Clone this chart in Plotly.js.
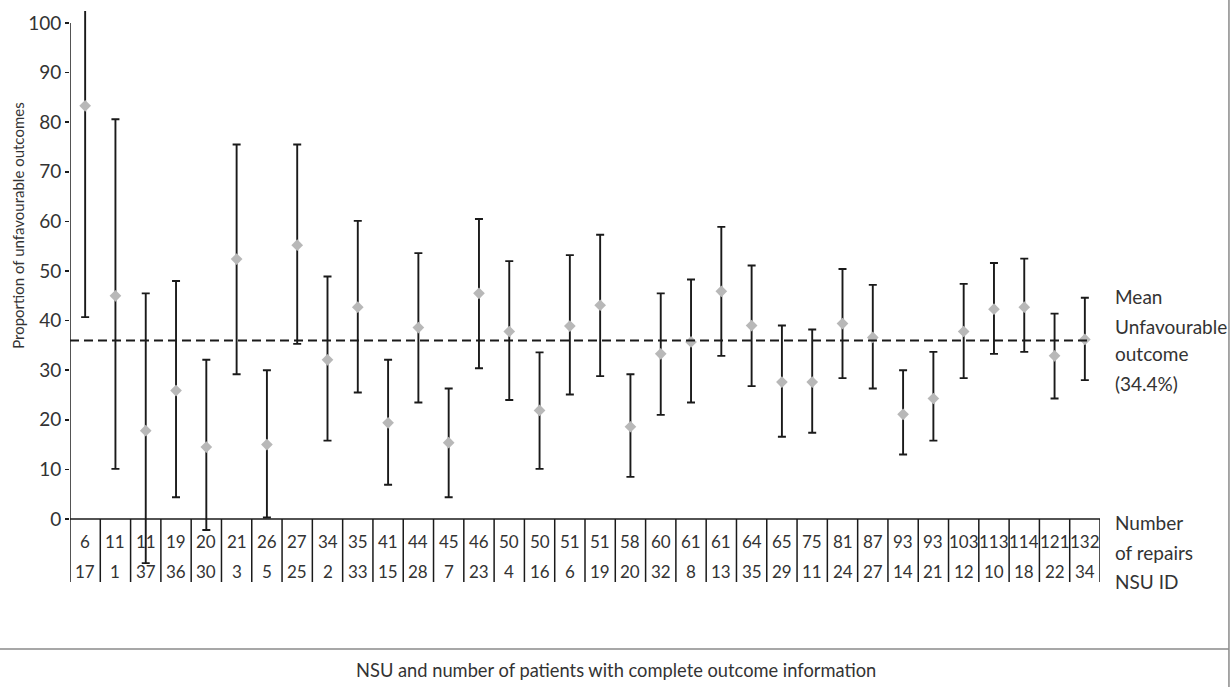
<!DOCTYPE html>
<html>
<head>
<meta charset="utf-8">
<script src="https://cdn.plot.ly/plotly-3.0.1.min.js"></script>
<style>
  html, body { margin: 0; padding: 0; background: #fff; }
  #chart { width: 1231px; height: 687px; }
</style>
</head>
<body>
<div id="chart"></div>
<script>
// Number of repairs per NSU (first table row)
const repairs = [6, 11, 11, 19, 20, 21, 26, 27, 34, 35, 41, 44, 45, 46, 50, 50, 51, 51, 58, 60, 61, 61, 64, 65, 75, 81, 87, 93, 93, 103, 113, 114, 121, 132];
// NSU ID (second table row)
const nsuId = [17, 1, 37, 36, 30, 3, 5, 25, 2, 33, 15, 28, 7, 23, 4, 16, 6, 19, 20, 32, 8, 13, 35, 29, 11, 24, 27, 14, 21, 12, 10, 18, 22, 34];
// Proportion of unfavourable outcomes (%)
const proportion = [83.3, 45.0, 17.8, 25.9, 14.5, 52.4, 15.0, 55.2, 32.1, 42.7, 19.4, 38.6, 15.4, 45.5, 37.8, 21.9, 38.9, 43.1, 18.6, 33.3, 35.7, 45.9, 39.0, 27.6, 27.6, 39.4, 36.6, 21.1, 24.3, 37.8, 42.3, 42.7, 32.9, 36.2];
// Upper confidence limit
const upper = [106.0, 80.6, 45.5, 48.0, 32.1, 75.5, 30.0, 75.5, 48.9, 60.1, 32.1, 53.6, 26.3, 60.5, 52.0, 33.6, 53.2, 57.3, 29.2, 45.5, 48.3, 58.9, 51.1, 39.0, 38.2, 50.4, 47.2, 30.0, 33.7, 47.4, 51.6, 52.5, 41.4, 44.6];
// Lower confidence limit
const lower = [40.7, 10.1, -8.9, 4.4, -2.2, 29.2, 0.3, 35.3, 15.8, 25.5, 6.9, 23.5, 4.4, 30.4, 24.0, 10.1, 25.1, 28.8, 8.5, 21.0, 23.5, 32.9, 26.8, 16.6, 17.4, 28.4, 26.3, 13.0, 15.8, 28.4, 33.3, 33.7, 24.3, 28.0];
// Mean line as drawn
const meanLine = 36;
const meanLabel = ["Mean", "Unfavourable", "outcome", "(34.4%)"];
const tableLabel = ["Number", "of repairs", "NSU ID"];
const yTicks = [0, 10, 20, 30, 40, 50, 60, 70, 80, 90, 100];
const yTitle = "Proportion of unfavourable outcomes";
const xTitle = "NSU and number of patients with complete outcome information";

const FONT = "Lato, 'Open Sans', sans-serif";
const TXT = "#333333";
const LINE = "#1a1a1a";

const n = repairs.length;
const xs = repairs.map((_, i) => i);

const trace = {
  type: "scatter",
  mode: "markers",
  x: xs,
  y: proportion,
  marker: { symbol: "diamond", size: 9, color: "#b8b8b8" },
  error_y: {
    type: "data",
    symmetric: false,
    array: proportion.map((p, i) => upper[i] - p),
    arrayminus: proportion.map((p, i) => p - lower[i]),
    color: LINE,
    thickness: 1.9,
    width: 4
  },
  hoverinfo: "x+y"
};

const tableBottom = -12.7;
const shapes = [];
shapes.push({ type: "line", xref: "x", yref: "y", x0: -0.5, x1: -0.5, y0: 100, y1: 0, line: { color: LINE, width: 1.5 } });
shapes.push({ type: "line", xref: "x", yref: "y", x0: -0.5, x1: n - 0.5, y0: 0, y1: 0, line: { color: LINE, width: 1.5 } });
for (let i = 0; i <= n; i++) {
  shapes.push({ type: "line", xref: "x", yref: "y", x0: i - 0.5, x1: i - 0.5, y0: 0, y1: tableBottom, line: { color: LINE, width: 1.5 } });
}
shapes.push({ type: "line", xref: "x", yref: "y", x0: -0.5, x1: n - 0.83, y0: meanLine, y1: meanLine, line: { color: LINE, width: 2, dash: "9px,5px" } });
shapes.push({ type: "line", xref: "paper", yref: "paper", x0: -0.068, x1: 1.1252, y0: -0.1154, y1: -0.1154, line: { color: "#8a8a8a", width: 1.5 } });
shapes.push({ type: "line", xref: "paper", yref: "paper", x0: 1.1252, x1: 1.1252, y0: 1.05, y1: -0.2, line: { color: "#8a8a8a", width: 1.5 } });

const annotations = [];
xs.forEach((x, i) => {
  annotations.push({ xref: "x", yref: "y", x: x, y: -4.6, text: String(repairs[i]), showarrow: false, font: { family: FONT, size: 17, color: TXT }, xanchor: "center", yanchor: "middle" });
  annotations.push({ xref: "x", yref: "y", x: x, y: -10.6, text: String(nsuId[i]), showarrow: false, font: { family: FONT, size: 17, color: TXT }, xanchor: "center", yanchor: "middle" });
});
const meanYs = [44.8, 38.9, 33.3, 27.3];
meanLabel.forEach((t, i) => {
  annotations.push({ xref: "paper", yref: "y", x: 1.0126, y: meanYs[i], text: t, showarrow: false, font: { family: FONT, size: 19, color: TXT }, xanchor: "left", yanchor: "middle" });
});
const tableYs = [-0.8, -6.7, -12.6];
tableLabel.forEach((t, i) => {
  annotations.push({ xref: "paper", yref: "y", x: 1.0126, y: tableYs[i], text: t, showarrow: false, font: { family: FONT, size: 19, color: TXT }, xanchor: "left", yanchor: "middle" });
});
annotations.push({ xref: "paper", yref: "paper", x: 0.530, y: -0.152, text: xTitle, showarrow: false, font: { family: FONT, size: 18.3, color: TXT }, xanchor: "center", yanchor: "middle" });
annotations.push({ xref: "paper", yref: "y", x: -0.0505, y: 59.3, text: yTitle, textangle: -90, showarrow: false, font: { family: FONT, size: 15, color: TXT }, xanchor: "center", yanchor: "middle" });

const layout = {
  width: 1231,
  height: 687,
  margin: { l: 70, r: 131, t: 11, b: 104 },
  paper_bgcolor: "#ffffff",
  plot_bgcolor: "#ffffff",
  showlegend: false,
  font: { family: FONT, color: TXT },
  xaxis: { range: [-0.5, n - 0.5], visible: false, showgrid: false, zeroline: false, fixedrange: true },
  yaxis: {
    range: [-12.9, 102.42],
    tickvals: yTicks,
    ticktext: yTicks.map(String),
    ticks: "outside",
    ticklen: 4,
    tickwidth: 1.5,
    tickcolor: LINE,
    showline: false,
    showgrid: false,
    zeroline: false,
    tickfont: { family: FONT, size: 19, color: TXT },
    fixedrange: true
  },
  shapes: shapes,
  annotations: annotations
};

Plotly.newPlot("chart", [trace], layout, { displayModeBar: false, staticPlot: true });
</script>
</body>
</html>
